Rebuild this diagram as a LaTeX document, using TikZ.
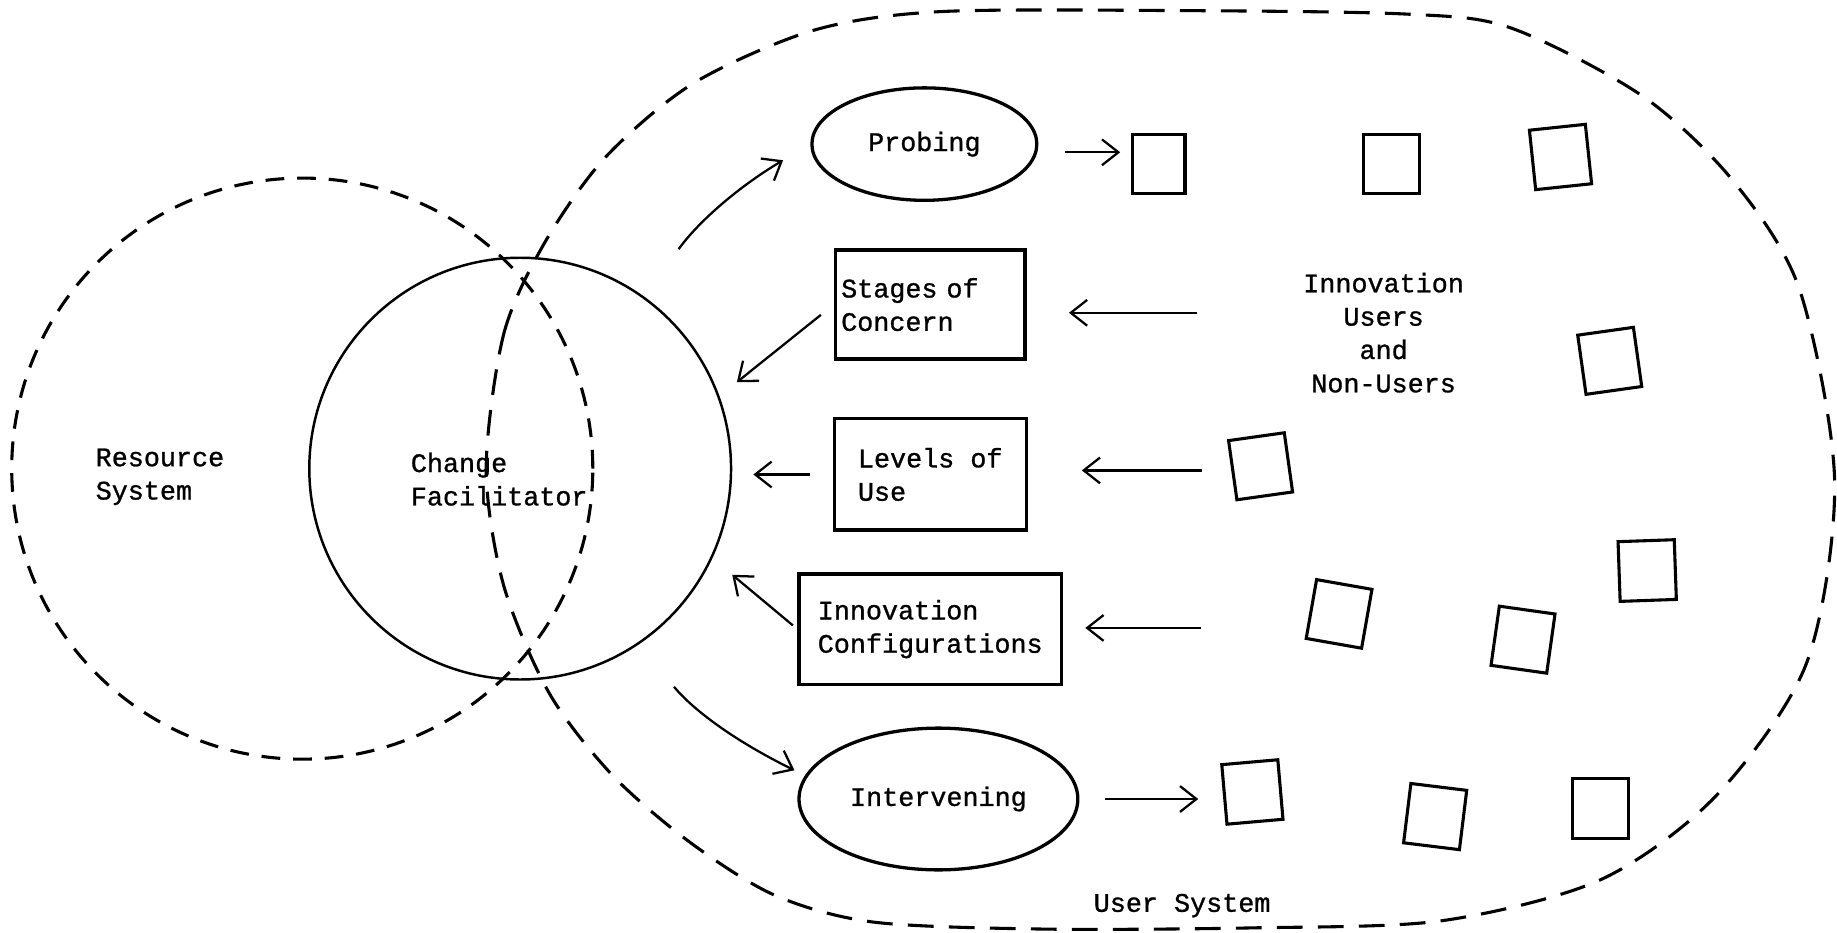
\documentclass[tikz,border=0pt]{standalone}
\usepackage{fontspec}
\setmainfont{Liberation Mono}[FakeBold=1]
\usepackage{tikz}
\usetikzlibrary{shapes,arrows.meta}
\tikzstyle{block} = [rectangle, draw, line width=0.8pt, align=left, minimum height=9.3mm]
\tikzstyle{oval} = [ellipse, draw, line width=0.8pt, inner sep=0pt]
\tikzstyle{user} = [rectangle, draw, line width=0.75pt, minimum width=4.8mm, minimum height=5.1mm, inner sep=0pt]
\tikzstyle{txt} = [inner sep=0pt, align=left]
\tikzstyle{bound} = [draw, line width=0.75pt, dash pattern=on 1.6mm off 1.1mm]
\tikzstyle{line} = [draw, line width=0.55pt, -{Straight Barb[length=1.4mm,width=2.2mm]}]

\begin{document}
\begin{tikzpicture}[x=0.1mm, y=-0.1mm, font=\fontsize{6.5}{8.1}\selectfont]
\useasboundingbox (0,0) rectangle (1568,796);

\path [bound] (258,400) circle [radius=24.8mm];
\path [bound, dash pattern=on 2.2mm off 1.3mm] plot [smooth cycle] coordinates {
  (415,400) (430,285) (465,207) (517,134) (592,71) (694,26) (801,10) (1000,9)
  (1200,12) (1290,24) (1402,82) (1479,154) (1536,247) (1566,411) (1542,566)
  (1465,679) (1366,751) (1230,786) (1069,792) (889,793) (745,787) (661,764)
  (589,719) (523,662) (469,592) (430,500)};

\node [circle, draw, line width=0.6pt, minimum size=36mm, inner sep=0pt] (fac) at (444,400) {};

\node [txt, anchor=west] (restext) at (81,407) {Resource\\System};
\node [txt, anchor=west] (factext) at (350,409) {Change\\Facilitator};

\node [oval, minimum width=19.2mm, minimum height=9.6mm] (probing) at (789,123) {Probing};
\node [block, minimum width=16.2mm, text width=15.2mm, inner xsep=0.5mm] (soc) at (794,260) {Stages of\\Concern};
\node [block, minimum width=16.4mm, minimum height=9.5mm] (lou) at (794,405) {Levels of\\Use};
\node [block, minimum width=22.4mm, minimum height=9.4mm] (ic) at (794,537) {Innovation\\Configurations};
\node [oval, minimum width=23.8mm, minimum height=12.1mm] (inter) at (801,682) {Intervening};

\node [txt, align=center] (users) at (1181,284) {Innovation\\Users\\and\\Non-Users};
\node [txt] (usersys) at (1009,773) {User System};

% users and non-users
\node [user, minimum width=4.5mm] (u1) at (989,140) {};
\node [user] (u2) at (1188,140) {};
\node [user, rotate=6] (u3) at (1332,134) {};
\node [user, rotate=8] (u4) at (1374,308) {};
\node [user, rotate=8] (u5) at (1076,398) {};
\node [user, rotate=2] (u6) at (1406,487) {};
\node [user, rotate=-10] (u7) at (1143,524) {};
\node [user, rotate=-8] (u8) at (1300,546) {};
\node [user, rotate=5] (u9) at (1069,676) {};
\node [user, rotate=-7] (u10) at (1225,697) {};
\node [user] (u11) at (1366,690) {};

\coordinate (fromusers) at (1022,267);
\coordinate (fromconfig) at (1025,536);

\path [line, shorten <=5mm, shorten >=2.7mm] (fac.54) to [bend left=12] (probing.west);
\path [line, shorten <=2.3mm, shorten >=0.9mm] ([yshift=-0.7mm]probing.east) -- ([yshift=-0.7mm]probing.east -| u1.west);

\path [line, shorten <=1.4mm, shorten >=1.9mm] (soc.west) -- (fac.20);
\path [line, shorten >=3.6mm] (fromusers) -- (fromusers -| soc.east);

\path [line, shorten <=1.9mm, shorten >=1.8mm] (lou.west) -- (lou.west -| fac.east);
\path [line, shorten <=2.5mm, shorten >=4.6mm] (u5.west) -- (u5.west -| lou.east);

\path [line, shorten <=0.5mm, shorten >=2.2mm] (ic.west) -- (fac.-25);
\path [line, shorten >=1.9mm] (fromconfig) -- (fromconfig -| ic.east);

\path [line, shorten <=4.7mm, shorten >=1mm] (fac.-56) to [bend right=12] (inter.170);
\path [line, shorten <=2.2mm, shorten >=2.1mm] (inter.east) -- (inter.east -| u9.west);

\end{tikzpicture}
\end{document}
